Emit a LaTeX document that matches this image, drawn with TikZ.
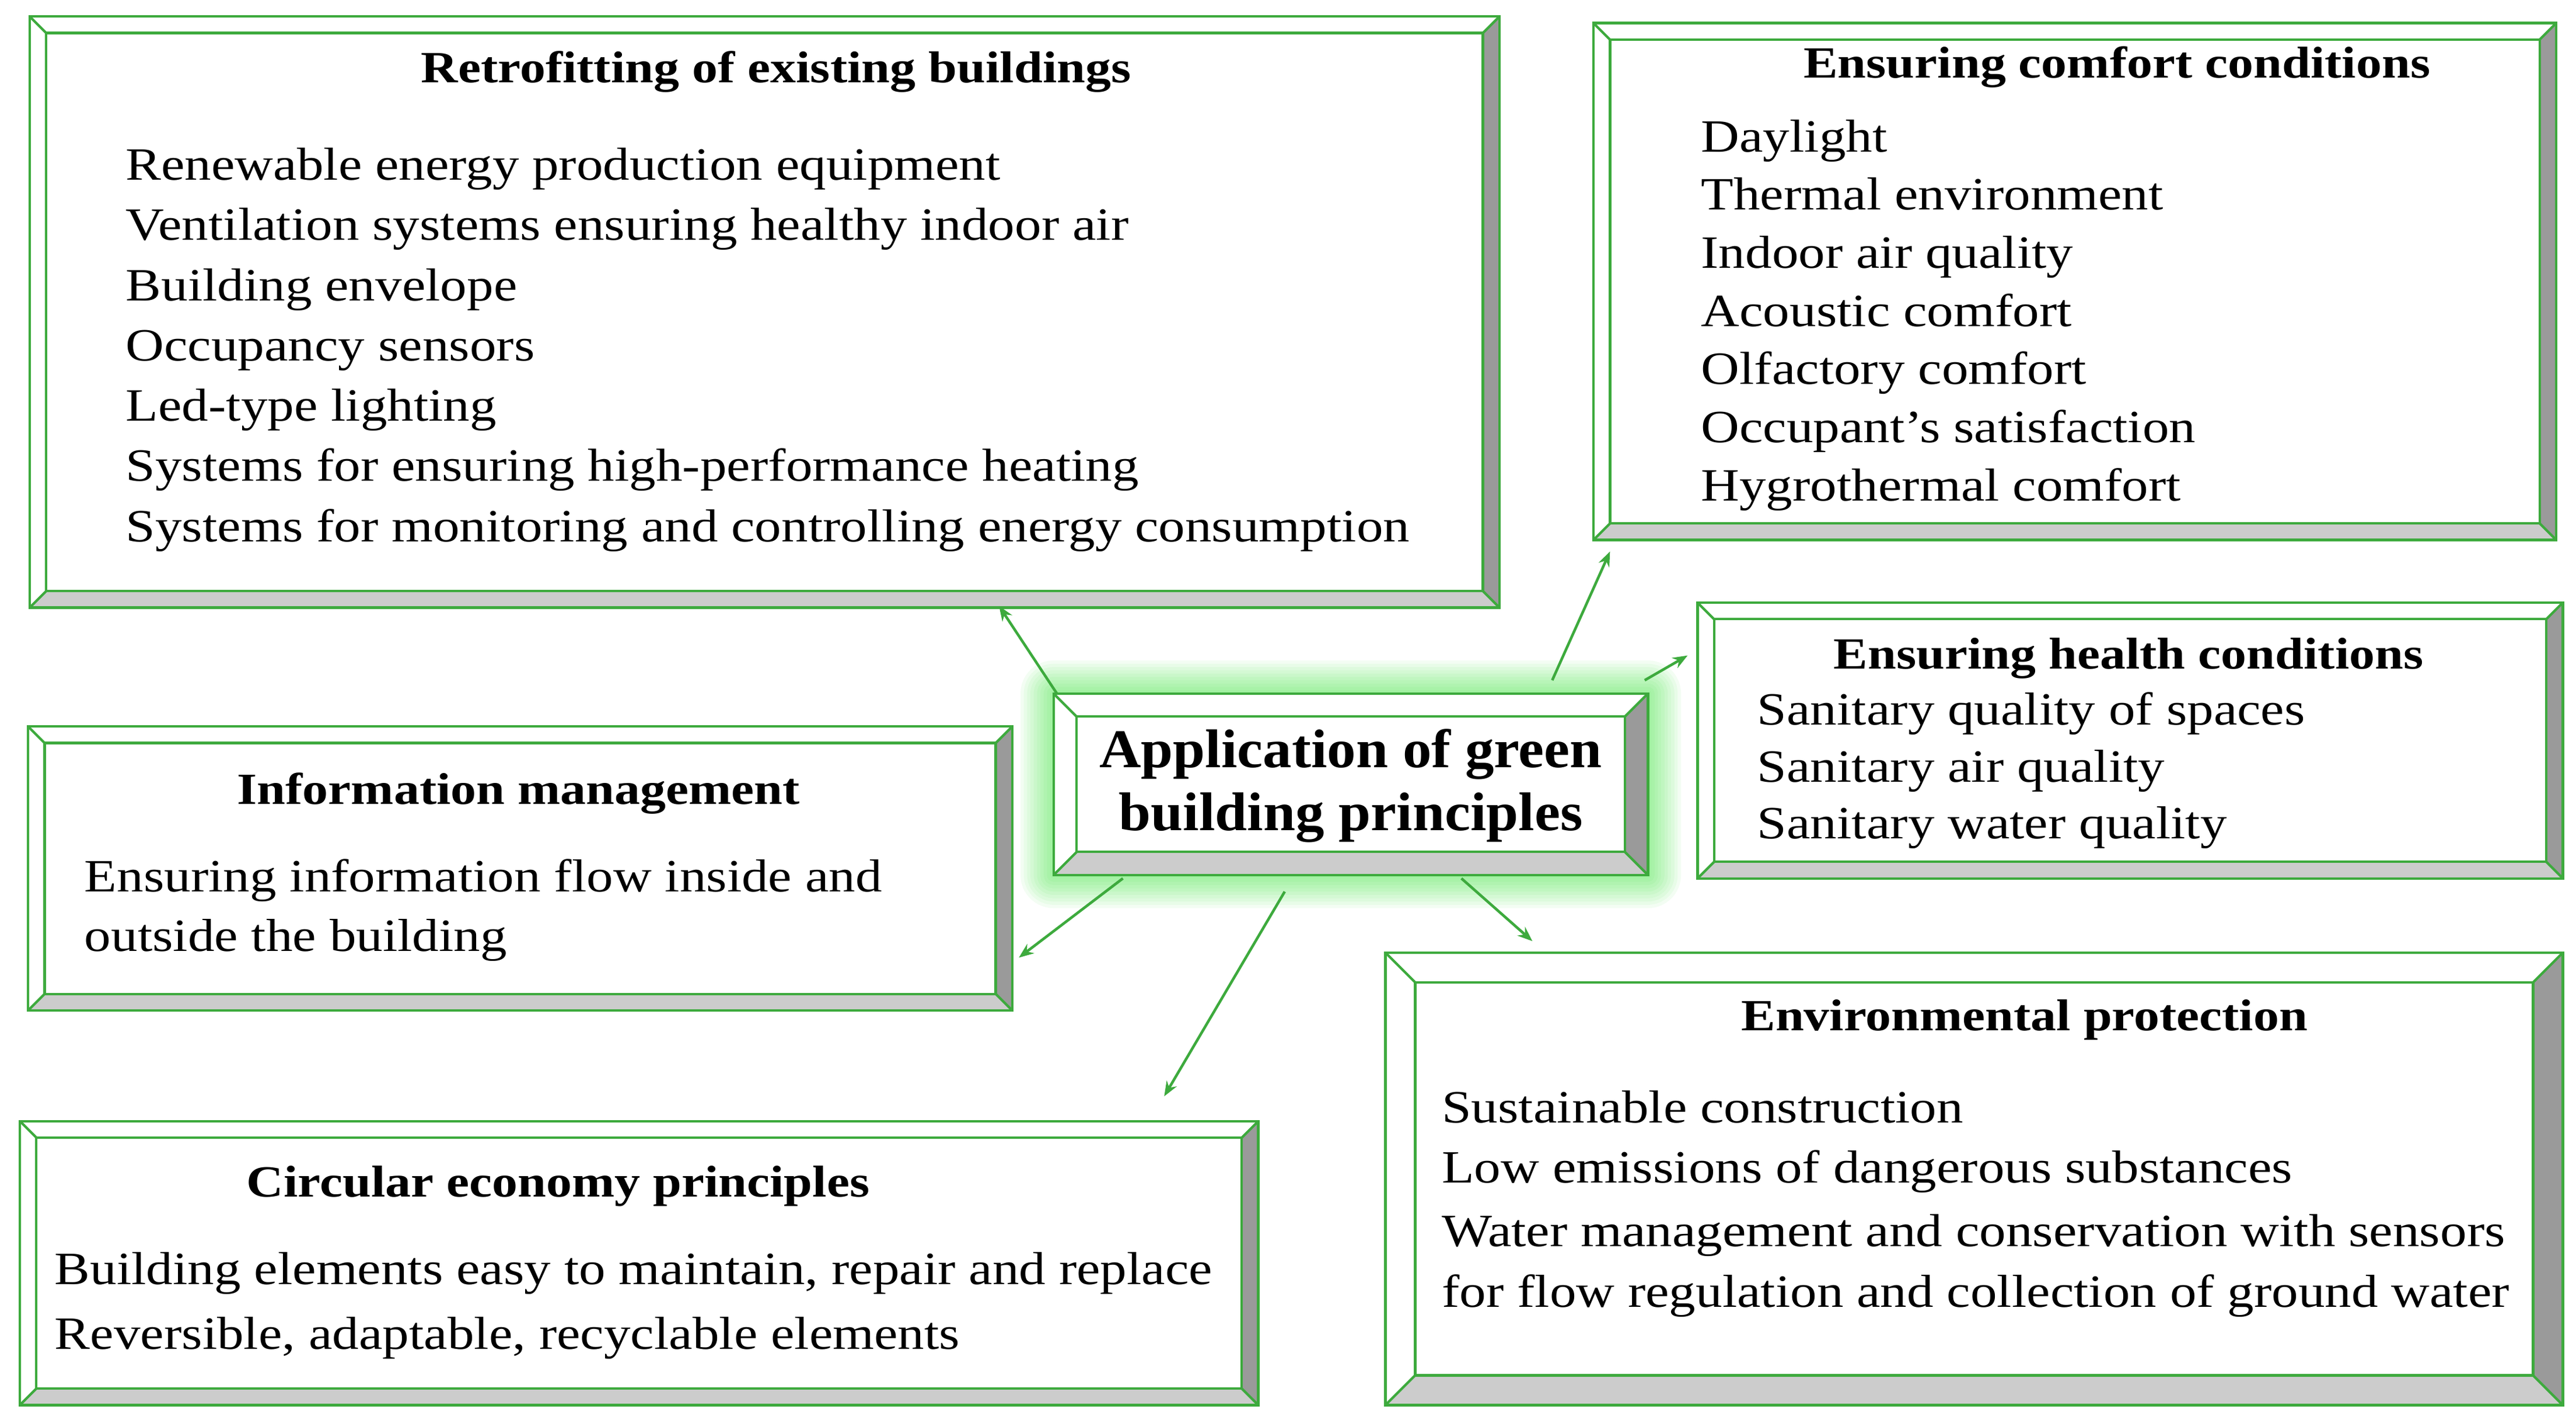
\documentclass[tikz,border=0pt]{standalone}
\usepackage{fontspec}
\setmainfont{Liberation Serif}
\newfontfamily\wide[FakeStretch=1.15]{Liberation Serif}
\newfontfamily\cwide[FakeStretch=1.06]{Liberation Serif}
\usetikzlibrary{calc,arrows.meta}
\definecolor{gr}{HTML}{3DAA3D}
\definecolor{dg}{HTML}{9A9A9A}
\definecolor{lg}{HTML}{CCCCCC}
\newcommand\bevbox[6]{% name, x1,y1,x2,y2, bevel
  \node[boxshape, minimum width={(#4-#2)*1pt}, minimum height={(#5-#3)*1pt}] (#1) at ({(#2+#4)/2},{(#3+#5)/2}) {};
  \coordinate (#1-a) at ($(#1.north west)+(#6,#6)$);
  \coordinate (#1-b) at ($(#1.north east)+(-#6,#6)$);
  \coordinate (#1-c) at ($(#1.south east)+(-#6,-#6)$);
  \coordinate (#1-d) at ($(#1.south west)+(#6,-#6)$);
  \fill[dg] (#1.north east) -- (#1.south east) -- (#1-c) -- (#1-b) -- cycle;
  \fill[lg] (#1.south west) -- (#1.south east) -- (#1-c) -- (#1-d) -- cycle;
  \draw[edge] (#1.north west) rectangle (#1.south east);
  \draw[edge] (#1-a) rectangle (#1-c);
  \draw[edge] (#1.north west) -- (#1-a) (#1.north east) -- (#1-b) (#1.south east) -- (#1-c) (#1.south west) -- (#1-d);
}
\tikzset{
  boxshape/.style={fill=white, inner sep=0pt, outer sep=0pt, draw=none},
  edge/.style={draw=gr, line width=1.5pt},
  conn/.style={draw=gr, line width=1.6pt, -{Stealth[length=9pt,width=7pt]}},
  ttl/.style={font=\wide\fontsize{27}{32}\selectfont\bfseries, anchor=base, inner sep=0pt},
  body/.style={font=\wide\fontsize{28}{34}\selectfont, anchor=base west, inner sep=0pt},
}
\begin{document}
\begin{tikzpicture}[x=1pt,y=-1pt]
\useasboundingbox (0,0) rectangle (1560,864);
% glow
\foreach \k in {1,...,10}
  \fill[green!60!gr, opacity=0.05, rounded corners={2*\k pt}] ({638-2*\k},{420-2*\k}) rectangle ({998+2*\k},{530+2*\k});
\bevbox{retro}{18}{10}{908}{368}{10}
\bevbox{comf}{965}{14}{1548}{327}{10}
\bevbox{health}{1028}{365}{1552}{532}{10}
\bevbox{info}{17}{440}{613}{612}{10}
\bevbox{center}{638}{420}{998}{530}{14}
\bevbox{env}{839}{577}{1552}{851}{18}
\bevbox{circ}{12}{679}{762}{851}{10}
% texts
\node[ttl] (retroT) at (470,50) {Retrofitting of existing buildings};
\foreach \t [count=\i] in {Renewable energy production equipment,Ventilation systems ensuring healthy indoor air,Building envelope,Occupancy sensors,Led-type lighting,Systems for ensuring high-performance heating,Systems for monitoring and controlling energy consumption}
  \node[body] (retro\i) at (76,{109+36.5*(\i-1)}) {\t};
\node[ttl] (comfT) at (1282,47) {Ensuring comfort conditions};
\foreach \t [count=\i] in {Daylight,Thermal environment,Indoor air quality,Acoustic comfort,Olfactory comfort,Occupant’s satisfaction,Hygrothermal comfort}
  \node[body] (comf\i) at (1030,{92+35.2*(\i-1)}) {\t};
\node[ttl] (healthT) at (1289,405) {Ensuring health conditions};
\foreach \t [count=\i] in {Sanitary quality of spaces,Sanitary air quality,Sanitary water quality}
  \node[body] (health\i) at (1064,{439+34.5*(\i-1)}) {\t};
\node[ttl] (infoT) at (314,487) {Information management};
\node[body] (info1) at (51,540) {Ensuring information flow inside and};
\node[body] (info2) at (51,576) {outside the building};
\node[ttl] (circT) at (338,725) {Circular economy principles};
\node[body] (circ1) at (33,778) {Building elements easy to maintain, repair and replace};
\node[body] (circ2) at (33,817) {Reversible, adaptable, recyclable elements};
\node[ttl] (envT) at (1226,624) {Environmental protection};
\foreach \t [count=\i] in {Sustainable construction,Low emissions of dangerous substances,Water management and conservation with sensors,for flow regulation and collection of ground water}
  \node[body] (env\i) at (873,{680+36.5*(\i-1)+(\i>2?2:0)}) {\t};
\node[font=\cwide\fontsize{33}{38}\selectfont\bfseries, align=center, inner sep=0pt] (centerT) at (818,476) {Application of green\\building principles};
% connectors
\coordinate (s1) at (640,420); \coordinate (e1) at (605,367);
\coordinate (s2) at (940,412); \coordinate (e2) at (975,334);
\coordinate (s3) at (996,412); \coordinate (e3) at (1022,397);
\coordinate (s4) at (680,532); \coordinate (e4) at (617,580);
\coordinate (s5) at (778,540); \coordinate (e5) at (705,664);
\coordinate (s6) at (885,532); \coordinate (e6) at (928,570);
\foreach \i in {1,...,6} \draw[conn] (s\i) -- (e\i);
\end{tikzpicture}
\end{document}
